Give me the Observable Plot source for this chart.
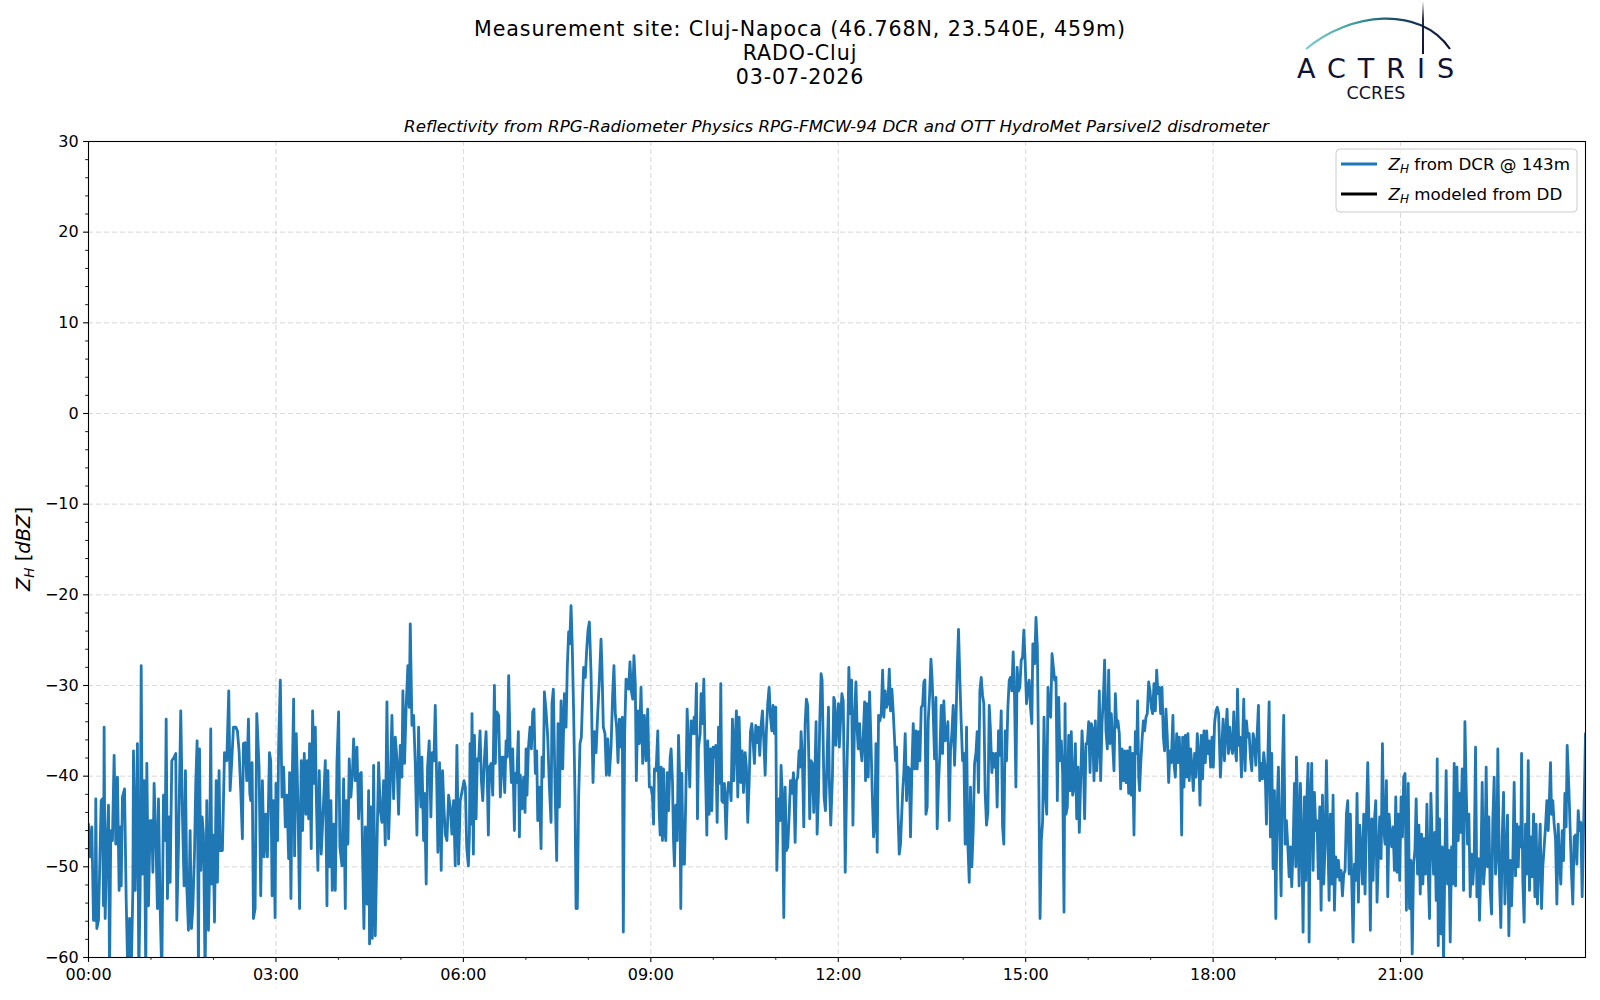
<!DOCTYPE html>
<html>
<head>
<meta charset="utf-8">
<script src="https://cdn.jsdelivr.net/npm/d3@7"></script>
<script src="https://cdn.jsdelivr.net/npm/@observablehq/plot@0.6"></script>
<style>
  body { margin: 0; background: white; }
  #wrap { position: relative; width: 1600px; height: 1000px; }
  #overlay { position: absolute; left: 0; top: 0; pointer-events: none; }
</style>
</head>
<body>
<div id="wrap"></div>
<script>
// ---- Data: [minutes since 00:00, Z_H (dBZ)], one array per 3-hour block ----
const zh0003 = [[0,-45.3],[1.6,-48.9],[3.2,-45.6],[4.8,-55.9],[6.4,-55.9],[7.0,-42.5],[8.0,-56.8],[9.6,-55.9],[11.2,-47.8],[12.2,-42.7],[13.4,-42.5],[14.4,-54.3],[15.0,-34.6],[16,-55.7],[17.6,-47.8],[19.2,-43.2],[20.2,-62],[21.4,-46.0],[23.0,-47.1],[24.6,-37.7],[26.2,-47.5],[27.8,-40.1],[29.4,-52.6],[30.4,-45.6],[31.4,-52.1],[32.6,-42.3],[34.6,-41.4],[36.2,-53.7],[37.8,-62],[39.4,-55.7],[41.0,-62],[42.6,-52.6],[43.2,-37.2],[44.8,-52.6],[47.0,-36.4],[48.3,-62],[49.6,-52.6],[50.6,-27.8],[51.8,-50.8],[53.4,-40.5],[55.0,-62],[56.0,-38.6],[57.6,-54.3],[59.2,-44.9],[60.8,-44.9],[61.8,-50.6],[63.0,-40.8],[64.6,-46.4],[66.2,-54.6],[67.2,-42.5],[68.8,-54.6],[70.4,-62],[72.0,-42.1],[73.6,-47.1],[74.6,-33.7],[75.8,-53.5],[77.4,-44.5],[78.4,-51.7],[80.0,-38.3],[82.2,-37.9],[83.8,-37.5],[84.8,-55.9],[86.4,-47.8],[88.6,-32.8],[90.2,-44.2],[91.8,-52.1],[93.1,-39.4],[94.4,-52.2],[96.0,-57.0],[97.6,-46.0],[98.9,-56.8],[100.2,-54.5],[101.8,-48.4],[103.0,-40.8],[104.3,-36.1],[105.6,-62],[106.6,-37.0],[107.8,-50.4],[109.1,-44.5],[110.4,-46.4],[112.0,-62],[113.6,-42.7],[115.2,-57.0],[116.2,-50.8],[117.4,-34.8],[118.4,-51.9],[119.7,-46.5],[121.0,-56.1],[122.6,-40.5],[123.8,-51.7],[125.4,-39.4],[126.4,-48.2],[128.6,-48.2],[130.6,-37.4],[132.8,-38.3],[134.7,-30.6],[136.0,-41.6],[137.6,-38.3],[139.2,-34.6],[141.4,-34.6],[143.0,-35.0],[144.6,-37.2],[146.2,-41.6],[147.8,-46.9],[148.8,-36.4],[150.4,-36.3],[152.0,-40.5],[153.6,-33.7],[154.9,-41.9],[155.8,-42.7],[157.1,-38.5],[158.4,-55.7],[160.0,-54.6],[161.6,-33.1],[163.8,-39.0],[165.4,-53.2],[167.0,-40.5],[168.6,-48.9],[170.2,-44.2],[171.8,-48.9],[173.8,-37.4],[175.0,-38.3],[176.3,-53.2],[177.6,-42.7],[179.2,-55.6]];
const zh0306 = [[180,-40.8],[181.6,-47.1],[182.6,-36.6],[184.2,-29.4],[185.8,-42.3],[187.4,-39.0],[189.0,-45.6],[190.6,-42.1],[192.2,-49.1],[193.1,-39.6],[194.4,-53.5],[195.4,-41.9],[197.0,-31.5],[197.9,-48.8],[199.5,-35.3],[201.1,-42.9],[202.7,-54.6],[204.3,-38.3],[205.6,-46.0],[207.2,-37.5],[208.8,-44.2],[210.1,-38.3],[211.4,-44.7],[212.3,-36.4],[213.9,-48.0],[215.2,-32.8],[216.8,-40.8],[217.8,-34.6],[218.7,-41.8],[220.3,-50.4],[221.6,-39.4],[223.5,-48.6],[225.8,-42.7],[227.4,-38.3],[229.0,-54.3],[229.9,-39.4],[231.5,-50.0],[232.8,-42.7],[234.1,-52.6],[235.4,-45.3],[237.0,-52.6],[238.6,-38.5],[240.2,-32.9],[241.4,-47.8],[243.4,-49.9],[245.0,-40.3],[246.6,-54.6],[247.5,-42.7],[249.1,-47.5],[250.4,-38.1],[252.0,-42.3],[253.6,-39.4],[254.6,-35.9],[256.2,-40.5],[257.8,-36.8],[259.4,-44.7],[261.0,-39.7],[261.9,-39.6],[263.2,-48.6],[264.5,-56.8],[265.8,-45.6],[267.4,-54.1],[269.0,-41.6],[269.9,-58.5],[271.2,-43.4],[272.5,-57.9],[273.8,-38.8],[275.4,-57.6],[277.0,-47.8],[278.6,-38.5],[280.2,-43.8],[281.8,-45.1],[283.4,-40.5],[285.0,-47.6],[286.6,-31.8],[288.2,-46.9],[289.8,-41.0],[291.4,-33.3],[293.0,-42.5],[294.6,-35.7],[296.2,-38.1],[297.8,-44.2],[299.4,-36.6],[301.0,-40.1],[301.9,-30.6],[303.5,-38.6],[305.1,-32.2],[306.7,-27.8],[308.0,-32.4],[309.0,-23.2],[310.6,-34.4],[312.2,-33.3],[313.8,-38.6],[315.4,-46.5],[317.0,-34.6],[318.2,-40.5],[319.2,-43.4],[320.2,-37.9],[321.8,-47.1],[322.7,-41.9],[324.3,-51.9],[325.6,-39.0],[327.2,-36.1],[328.8,-44.5],[330.1,-37.4],[331.7,-38.3],[333.0,-32.2],[334.6,-41.9],[335.5,-48.4],[337.1,-38.5],[338.7,-50.4],[340.0,-39.4],[341.3,-43.4],[342.6,-46.4],[344.2,-47.1],[345.8,-42.1],[347.4,-43.4],[349.0,-46.4],[350.6,-42.7],[352.2,-49.9],[353.8,-36.6],[355.4,-49.7],[357.0,-42.7]];
const zh0609 = [[360.6,-40.5],[361.9,-41.2],[363.2,-47.8],[364.8,-49.9],[365.8,-46.4],[366.4,-36.4],[367.4,-45.3],[368.3,-33.1],[369.6,-48.6],[370.6,-35.5],[372.2,-44.7],[373.4,-38.1],[374.7,-38.3],[376.0,-35.0],[377.3,-40.5],[378.6,-42.7],[380.2,-38.1],[381.8,-35.1],[383.0,-40.5],[384.0,-46.5],[385.0,-39.0],[386.6,-38.6],[388.2,-42.1],[389.8,-30.0],[390.7,-38.6],[392.0,-32.9],[393.9,-33.3],[395.5,-42.3],[397.1,-37.9],[398.4,-37.9],[399.7,-41.8],[401.0,-36.1],[402.2,-37.9],[403.5,-28.9],[405.1,-37.9],[406.1,-40.7],[407.4,-37.0],[409.0,-46.0],[409.9,-39.7],[411.2,-40.7],[412.8,-35.1],[413.8,-46.7],[414.7,-39.9],[416.3,-43.6],[417.9,-40.1],[419.2,-44.0],[420.2,-37.0],[421.1,-42.1],[422.4,-37.0],[424.0,-34.6],[425.3,-37.0],[426.6,-32.9],[427.8,-32.6],[429.1,-39.7],[430.4,-37.2],[431.4,-44.9],[433.0,-41.2],[434.6,-48.0],[435.5,-37.9],[436.8,-40.1],[437.8,-30.7],[439.4,-32.8],[441.0,-35.7],[442.6,-41.2],[444.2,-45.1],[445.1,-32.0],[446.4,-30.4],[448.0,-41.2],[449.6,-49.3],[450.9,-34.2],[452.2,-43.4],[453.8,-31.7],[455.4,-39.2],[457.0,-30.9],[458.6,-34.6],[459.8,-28.0],[461.1,-24.1],[462.1,-25.4],[463.4,-21.2],[464.6,-25.8],[465.9,-33.1],[467.2,-42.3],[468.2,-54.6],[469.4,-54.6],[470.7,-42.3],[472.0,-36.4],[473.3,-35.7],[474.6,-30.9],[475.5,-28.0],[477.1,-29.1],[478.4,-26.1],[479.7,-23.9],[481.0,-23.0],[482.6,-28.7],[483.5,-35.0],[484.5,-40.7],[485.8,-35.1],[487.4,-37.4],[489.0,-33.1],[490.6,-29.4],[492.2,-24.9],[493.1,-28.0],[494.4,-34.6],[496.0,-35.3],[497.3,-39.9],[498.6,-35.9],[500.2,-39.9],[501.8,-36.8],[503.4,-30.9],[504.6,-27.8],[505.9,-33.1],[507.2,-34.6],[508.5,-38.5],[509.8,-33.7],[511.4,-36.8],[512.6,-33.5],[513.6,-57.2],[514.9,-35.3],[516.2,-29.3],[517.4,-29.4],[518.7,-30.4],[520.0,-27.4],[521.3,-30.6],[522.6,-31.5],[523.8,-26.7],[525.1,-29.8],[526.1,-40.5],[527.4,-32.8],[529.0,-36.4],[530.6,-30.2],[532.2,-38.6],[533.8,-33.3],[535.4,-38.3],[537.0,-32.6],[538.6,-41.2]];
const zh0912 = [[540.3,-41.2],[541.6,-42.3],[542.6,-45.3],[543.5,-39.2],[545.1,-39.4],[546.7,-35.0],[548.0,-43.8],[549.0,-46.5],[549.9,-39.0],[551.2,-47.1],[552.2,-39.2],[553.1,-45.6],[554.4,-47.1],[555.7,-39.6],[557.0,-43.8],[558.6,-37.9],[559.5,-37.0],[560.8,-40.5],[561.8,-47.1],[562.7,-49.9],[564.0,-43.2],[565.3,-47.1],[566.6,-35.5],[567.8,-40.5],[568.8,-54.6],[569.8,-39.7],[571.0,-49.7],[572.3,-49.7],[573.6,-42.3],[574.9,-32.6],[576.2,-36.8],[577.4,-41.2],[578.7,-33.9],[580.3,-35.3],[581.6,-33.5],[582.6,-35.3],[583.8,-29.8],[584.8,-44.7],[585.8,-36.8],[587.4,-35.3],[588.3,-30.9],[589.6,-34.2],[590.9,-29.3],[592.2,-37.9],[593.8,-46.5],[594.7,-36.1],[596.0,-44.2],[597.3,-37.0],[598.6,-43.8],[599.8,-36.8],[601.1,-37.9],[602.4,-36.6],[603.7,-45.1],[605.0,-34.6],[606.2,-40.8],[607.2,-29.8],[608.2,-42.7],[609.4,-42.9],[610.7,-40.8],[612.3,-46.9],[613.6,-41.9],[614.6,-40.7],[616.2,-41.4],[617.1,-42.7],[618.4,-33.7],[619.7,-40.5],[621.0,-35.9],[622.2,-32.8],[623.5,-42.3],[624.8,-33.5],[626.4,-40.7],[627.7,-37.2],[629.0,-41.8],[630.6,-37.4],[631.8,-39.0],[633.1,-45.1],[634.4,-40.8],[635.7,-35.1],[637.0,-34.2],[638.2,-36.1],[639.5,-38.6],[640.8,-34.4],[642.4,-36.3],[643.4,-34.6],[644.6,-37.7],[645.9,-34.4],[647.2,-32.8],[648.5,-36.1],[649.8,-39.9],[651.0,-35.0],[652.3,-32.0],[653.6,-30.2],[654.9,-33.5],[656.2,-35.0],[657.4,-32.2],[658.7,-35.3],[660.0,-32.4],[661.0,-50.4],[661.9,-46.4],[662.9,-42.5],[664.2,-44.9],[665.1,-38.8],[666.4,-42.3],[667.7,-55.6],[669.0,-41.2],[670.2,-48.2],[671.5,-47.8],[672.8,-44.5],[674.1,-40.5],[675.4,-41.9],[677.0,-39.6],[678.6,-47.3],[679.8,-40.5],[681.1,-40.1],[682.4,-37.2],[683.4,-39.0],[684.3,-35.1],[685.6,-38.1],[686.9,-45.6],[688.2,-34.2],[689.4,-31.5],[690.7,-32.2],[691.7,-37.9],[692.6,-44.7],[693.9,-38.3],[695.2,-38.6],[696.5,-44.0],[697.8,-38.6],[698.7,-34.0],[699.7,-46.4],[701.0,-41.9],[702.2,-34.2],[703.5,-28.7],[704.5,-29.4],[705.4,-35.3],[706.4,-42.3],[707.7,-43.8],[709.0,-39.0],[710.6,-32.4],[711.5,-40.8],[712.8,-45.4],[714.4,-40.1],[715.7,-31.3],[716.6,-31.7],[717.6,-36.6],[718.9,-33.9],[720.2,-32.0]];
const zh1215 = [[721.0,-36.8],[722.2,-33.9],[723.5,-30.9],[724.8,-31.7],[725.8,-41.2],[726.7,-50.6],[728.0,-41.2],[729.3,-34.2],[730.2,-28.0],[731.5,-33.1],[732.8,-29.4],[734.1,-45.4],[735.7,-33.1],[737.0,-29.6],[738.2,-35.0],[739.2,-37.0],[740.5,-34.2],[741.4,-36.8],[742.7,-38.3],[744.0,-35.7],[745.3,-31.8],[746.2,-40.5],[747.5,-32.0],[748.8,-40.1],[750.1,-30.7],[751.4,-36.1],[752.6,-41.6],[753.9,-46.7],[755.2,-45.3],[756.2,-36.4],[757.4,-48.4],[758.7,-33.3],[760.0,-33.9],[761.3,-33.1],[762.6,-28.3],[763.8,-33.5],[765.1,-30.6],[766.4,-32.4],[767.7,-32.0],[769.0,-28.2],[770.2,-32.8],[771.5,-30.4],[772.8,-32.9],[773.8,-35.3],[775.0,-38.3],[776.0,-36.8],[777.3,-43.8],[778.6,-48.6],[779.8,-47.5],[781.1,-43.8],[782.1,-41.2],[783.0,-39.6],[784.3,-35.3],[785.6,-42.7],[786.9,-39.0],[788.2,-39.2],[789.4,-46.7],[790.7,-39.4],[792.0,-34.2],[793.3,-39.2],[794.6,-35.0],[795.8,-39.2],[797.1,-35.1],[798.4,-38.3],[799.7,-32.4],[801.0,-32.2],[802.2,-29.6],[803.2,-29.4],[804.2,-44.2],[805.4,-43.4],[806.4,-33.9],[807.7,-31.1],[809.0,-27.1],[810.2,-29.4],[811.2,-33.1],[812.5,-38.1],[813.8,-31.3],[815.0,-45.8],[816.3,-40.8],[817.6,-37.5],[818.9,-32.2],[820.2,-37.5],[821.4,-31.7],[822.7,-36.1],[824.0,-35.7],[825.3,-34.0],[826.6,-44.9],[827.8,-37.2],[829.1,-35.3],[830.4,-32.2],[831.7,-38.8],[833.0,-34.2],[834.2,-28.3],[835.5,-23.8],[836.8,-29.4],[838.1,-34.2],[839.4,-38.3],[840.6,-37.5],[841.9,-47.5],[843.2,-34.6],[844.5,-47.5],[845.8,-51.7],[847.0,-41.2],[848.3,-50.0],[849.6,-46.0],[850.9,-38.6],[852.2,-37.5],[853.4,-35.1],[854.7,-41.8],[856.0,-30.6],[857.3,-29.1],[858.6,-31.1],[859.8,-32.0],[861.1,-41.9],[862.4,-45.4],[863.7,-44.0],[865.0,-32.2],[866.2,-35.0],[867.5,-39.6],[868.8,-37.5],[870.1,-39.0],[871.4,-37.5],[872.6,-43.4],[873.9,-35.0],[875.2,-37.7],[876.5,-32.8],[877.8,-45.6],[879.0,-47.5],[880.3,-35.0],[881.6,-38.3],[882.9,-32.4],[884.2,-29.4],[885.4,-29.1],[886.7,-30.6],[888.0,-26.3],[889.3,-31.3],[890.6,-41.2],[891.8,-28.0],[893.1,-30.6],[894.4,-30.2],[895.7,-27.2],[897.0,-26.9],[898.2,-23.9],[899.5,-27.4],[900.8,-32.0],[902.1,-30.2],[903.4,-29.4],[904.6,-32.4],[905.9,-34.2],[906.9,-25.4]];
const zh1518 = [[908.6,-27.6],[909.9,-22.5],[911.2,-25.8],[912.5,-39.0],[913.8,-55.7],[915.0,-47.1],[916.3,-44.9],[917.6,-33.5],[918.9,-41.9],[920.2,-44.2],[921.4,-30.2],[922.7,-33.1],[924.0,-33.5],[925.3,-26.5],[926.6,-28.0],[927.8,-29.4],[929.1,-29.1],[930.4,-42.7],[931.7,-31.3],[933.0,-38.3],[934.2,-36.1],[935.5,-39.7],[936.8,-55.0],[937.8,-32.0],[938.7,-44.2],[940.0,-43.4],[941.3,-35.5],[942.6,-41.6],[943.8,-35.1],[945.1,-42.1],[946.4,-41.2],[947.7,-36.4],[949.0,-44.7],[950.2,-39.0],[951.5,-46.2],[952.8,-40.5],[954.1,-35.0],[955.4,-38.3],[956.6,-44.7],[957.9,-36.4],[959.2,-36.4],[960.5,-34.0],[961.8,-39.6],[963.0,-34.2],[964.3,-34.8],[965.6,-40.5],[966.9,-33.9],[968.2,-39.4],[969.4,-36.8],[970.7,-30.6],[972.0,-40.5],[973.3,-34.2],[974.6,-31.3],[975.8,-27.2],[977.1,-35.0],[978.4,-37.0],[979.7,-28.3],[981.0,-36.4],[982.2,-33.1],[983.5,-36.4],[984.8,-39.4],[986.1,-30.9],[987.4,-34.6],[988.6,-33.9],[989.9,-35.3],[991.2,-41.4],[992.5,-37.0],[993.8,-40.5],[995.0,-37.2],[996.3,-40.7],[997.6,-37.2],[998.9,-41.9],[1000.2,-36.8],[1001.4,-42.1],[1002.7,-37.5],[1004.0,-46.5],[1005.3,-35.1],[1006.6,-37.5],[1007.5,-31.7],[1008.5,-40.1],[1009.4,-41.6],[1010.4,-38.8],[1011.7,-36.1],[1013.0,-33.9],[1014.2,-35.0],[1015.5,-33.5],[1016.8,-33.1],[1018.1,-29.6],[1019.4,-30.6],[1020.6,-32.4],[1021.9,-33.1],[1023.2,-29.8],[1024.5,-32.8],[1025.8,-28.3],[1027.0,-30.9],[1028.3,-30.2],[1029.6,-33.1],[1030.9,-30.2],[1032.2,-35.7],[1033.4,-37.2],[1034.7,-32.6],[1036.0,-35.7],[1037.3,-40.7],[1038.6,-37.2],[1039.8,-38.5],[1041.4,-33.3],[1042.4,-38.6],[1043.7,-40.1],[1045.0,-35.3],[1046.2,-38.5],[1047.5,-35.7],[1048.8,-39.0],[1049.8,-46.5],[1050.7,-35.7],[1052.0,-41.2],[1053.3,-35.5],[1054.6,-40.1],[1055.8,-35.3],[1057.1,-40.5],[1058.4,-37.0],[1059.7,-39.0],[1061.0,-41.6],[1062.2,-37.5],[1063.5,-40.1],[1064.8,-35.3],[1066.1,-37.5],[1067.4,-43.2],[1068.6,-35.5],[1069.9,-40.3],[1071.2,-35.0],[1072.5,-38.5],[1073.8,-35.0],[1075.0,-37.5],[1076.3,-36.1],[1077.6,-39.0],[1078.9,-35.7],[1080.2,-39.0],[1081.4,-34.2],[1082.7,-32.8],[1084.0,-32.4],[1085.3,-33.1]];
const zh1821 = [[1087.0,-40.1],[1088.3,-37.0],[1089.6,-33.7],[1090.9,-38.3],[1092.2,-35.0],[1093.4,-32.6],[1094.7,-37.5],[1096.0,-34.6],[1097.3,-36.8],[1098.6,-37.5],[1099.8,-32.9],[1101.1,-36.8],[1102.4,-38.3],[1103.4,-30.4],[1104.6,-36.6],[1105.9,-35.7],[1107.2,-40.1],[1108.5,-35.3],[1109.4,-31.5],[1110.7,-39.4],[1112.0,-33.9],[1113.3,-35.7],[1114.6,-35.3],[1115.8,-37.9],[1117.1,-39.4],[1118.4,-35.3],[1119.7,-36.1],[1121.0,-38.8],[1122.2,-35.7],[1123.5,-32.2],[1124.8,-40.5],[1126.1,-38.6],[1127.4,-40.3],[1128.6,-37.4],[1129.9,-39.0],[1131.2,-45.3],[1132.5,-38.3],[1133.8,-31.8],[1135.0,-46.7],[1136.3,-37.5],[1137.6,-50.2],[1138.9,-41.6],[1140.2,-55.7],[1141.4,-43.8],[1142.7,-39.0],[1144.0,-46.7],[1145.3,-53.2],[1146.6,-39.0],[1147.8,-33.3],[1149.1,-47.5],[1150.4,-44.9],[1151.7,-47.8],[1153.0,-51.1],[1154.2,-47.8],[1155.5,-52.2],[1156.8,-47.8],[1158.1,-40.8],[1159.4,-50.0],[1160.0,-37.9],[1161.3,-44.2],[1162.6,-52.1],[1163.8,-40.8],[1165.1,-46.4],[1166.4,-57.2],[1167.7,-42.3],[1169.0,-51.5],[1170.2,-41.9],[1171.2,-38.6],[1172.2,-58.3],[1173.4,-43.4],[1174.7,-38.6],[1176.0,-50.4],[1177.3,-41.8],[1178.6,-46.0],[1179.8,-44.9],[1181.1,-51.3],[1182.4,-43.4],[1183.7,-54.8],[1185.0,-42.1],[1186.2,-51.9],[1187.5,-47.8],[1188.8,-38.3],[1190.1,-46.4],[1191.4,-53.7],[1192.6,-44.2],[1193.9,-51.9],[1195.2,-42.1],[1196.5,-54.8],[1197.8,-48.9],[1199.0,-51.1],[1200.3,-49.3],[1201.6,-51.5],[1202.9,-50.4],[1204.2,-53.2],[1205.4,-50.8],[1206.7,-50.4],[1208.0,-44.2],[1209.3,-42.7],[1210.6,-50.8],[1211.8,-44.2],[1213.1,-51.5],[1214.4,-58.3],[1215.7,-49.7],[1217.0,-51.5],[1218.2,-41.9],[1219.5,-53.9],[1220.8,-45.4],[1222.1,-48.2],[1223.4,-51.9],[1224.6,-44.2],[1225.9,-53.0],[1227.2,-44.5],[1228.5,-38.5],[1229.8,-46.4],[1231.0,-57.0],[1232.3,-44.7],[1233.6,-51.5],[1234.9,-44.9],[1236.2,-42.7],[1237.4,-53.9],[1238.7,-48.6],[1240.0,-44.5],[1241.3,-49.1],[1242.6,-36.4],[1243.8,-45.8],[1245.1,-47.5],[1246.4,-40.5],[1247.7,-53.3],[1249.0,-44.2],[1250.2,-46.4],[1251.5,-47.8],[1252.8,-45.6],[1254.1,-50.4],[1255.4,-42.3],[1256.6,-50.6],[1257.9,-44.2],[1259.2,-51.5],[1260.5,-42.3],[1261.8,-46.7],[1263.0,-40.1],[1264.3,-39.7],[1265.6,-54.8]];
const zh2124 = [[1267.4,-40.8],[1268.6,-54.6],[1269.9,-49.3],[1271.2,-59.6],[1272.5,-49.7],[1273.8,-48.2],[1275.0,-42.5],[1276.3,-50.8],[1277.6,-45.4],[1278.9,-53.0],[1280.2,-46.4],[1281.4,-51.9],[1282.7,-46.9],[1284.0,-50.8],[1285.3,-43.1],[1286.6,-50.8],[1287.8,-55.7],[1289.1,-41.9],[1290.4,-47.1],[1291.7,-50.8],[1293.0,-46.2],[1294.2,-53.7],[1295.2,-38.1],[1296.2,-58.7],[1297.4,-44.7],[1298.7,-57.4],[1300.0,-47.8],[1301.3,-60.5],[1302.6,-48.9],[1303.8,-39.4],[1305.1,-51.9],[1306.4,-48.2],[1307.7,-58.3],[1309.0,-47.8],[1310.2,-51.9],[1311.5,-38.6],[1312.8,-52.1],[1314.1,-39.0],[1315.4,-47.1],[1316.6,-41.9],[1317.9,-46.2],[1319.2,-39.2],[1320.5,-52.6],[1321.8,-34.0],[1323.0,-41.2],[1324.3,-47.5],[1325.6,-44.2],[1326.9,-53.3],[1328.2,-48.6],[1329.4,-51.9],[1330.7,-49.3],[1332.0,-36.8],[1333.3,-53.3],[1334.6,-49.1],[1335.8,-55.9],[1337.1,-50.0],[1338.4,-40.7],[1339.7,-51.9],[1341.0,-49.7],[1342.2,-39.0],[1343.5,-50.0],[1344.8,-44.5],[1346.1,-52.6],[1347.4,-55.2],[1348.6,-44.9],[1349.9,-40.1],[1351.2,-50.8],[1352.5,-48.6],[1353.4,-37.0],[1355.0,-51.5],[1356.3,-56.7],[1357.6,-46.7],[1358.9,-41.8],[1360.2,-54.1],[1361.4,-48.9],[1362.7,-44.3],[1364.0,-57.6],[1365.3,-49.3],[1366.6,-54.3],[1367.8,-49.3],[1369.1,-40.7],[1370.4,-51.0],[1371.7,-45.3],[1373.0,-50.0],[1374.2,-45.6],[1375.5,-47.8],[1376.2,-37.5],[1377.4,-51.5],[1378.7,-56.1],[1380.0,-45.3],[1381.3,-50.8],[1382.6,-38.3],[1383.8,-52.6],[1385.1,-46.7],[1386.4,-51.1],[1387.7,-44.2],[1389.0,-53.3],[1390.2,-45.3],[1391.5,-54.1],[1392.8,-49.7],[1394.1,-45.3],[1395.4,-54.6],[1396.6,-50.0],[1397.9,-47.8],[1399.2,-45.6],[1400.5,-42.7],[1401.8,-46.0],[1403.0,-42.3],[1404.0,-38.5],[1405.0,-44.2],[1406.2,-42.7],[1407.5,-45.3],[1408.8,-46.9],[1410.1,-54.1],[1411.4,-45.3],[1412.6,-49.3],[1413.9,-51.9],[1415.2,-46.0],[1416.5,-49.3],[1417.8,-41.9],[1419.0,-45.6],[1420.0,-36.6],[1421.6,-41.2],[1422.9,-46.0],[1424.2,-50.8],[1425.4,-54.1],[1426.7,-46.7],[1428.0,-46.5],[1429.3,-49.7],[1430.6,-43.8],[1431.8,-46.0],[1433.1,-45.1],[1434.4,-53.3],[1435.7,-46.0],[1437.0,-39.0],[1437.6,-35.3]];

// Tick positions and labels
const xMajor = [0, 180, 360, 540, 720, 900, 1080, 1260];            // minutes
const xMinor = [60, 120, 240, 300, 420, 480, 600, 660, 780, 840, 960, 1020, 1140, 1200, 1320, 1380];
const yMajor = [-60, -50, -40, -30, -20, -10, 0, 10, 20, 30];
const yMinor = d3.range(-58, 30, 2).filter(d => d % 10 !== 0);
const titleLines = ["Measurement site: Cluj-Napoca (46.768N, 23.540E, 459m)", "RADO-Cluj", "03-07-2026"];
const subtitle = "Reflectivity from RPG-Radiometer Physics RPG-FMCW-94 DCR and OTT HydroMet Parsivel2 disdrometer";

const series = [zh0003, zh0306, zh0609, zh0912, zh1215, zh1518, zh1821, zh2124]
  .flat().map(([t, v]) => ({t, v}));

const hhmm = m => String(Math.floor(m / 60)).padStart(2, "0") + ":" + String(m % 60).padStart(2, "0");
const yfmt = d => d < 0 ? "\u2212" + Math.abs(d) : String(d);

const gridStyle = {stroke: "#b0b0b0", strokeOpacity: 0.55, strokeWidth: 0.9, strokeDasharray: "5,3"};

const chart = Plot.plot({
  width: 1600,
  height: 1000,
  marginTop: 141,
  marginRight: 15,
  marginBottom: 43,
  marginLeft: 88,
  style: {fontFamily: "'DejaVu Sans', sans-serif", fontSize: "16px", color: "black", background: "white", overflow: "visible"},
  x: {domain: [0, 1437.6]},
  y: {domain: [-60, 30]},
  marks: [
    Plot.gridX(xMajor, gridStyle),
    Plot.gridY(yMajor, gridStyle),
    Plot.line(series, {x: "t", y: "v", stroke: "#1f77b4", strokeWidth: 2.8, clip: true}),
    Plot.frame({stroke: "black", strokeWidth: 1.1}),
    Plot.axisX(xMajor, {tickSize: 4.9, tickPadding: 6.5, tickFormat: hhmm, strokeWidth: 1.1, label: null}),
    Plot.axisX(xMinor, {tickSize: 2.8, tickFormat: () => "", strokeWidth: 0.9, label: null}),
    Plot.axisY(yMajor, {tickSize: 4.9, tickPadding: 4.9, tickFormat: yfmt, strokeWidth: 1.1, label: null}),
    Plot.axisY(yMinor, {tickSize: 2.8, tickFormat: () => "", strokeWidth: 0.9, label: null})
  ]
});

const wrap = document.getElementById("wrap");
wrap.appendChild(chart);

// Overlay: titles, axis label, legend, logo
const ns = "http://www.w3.org/2000/svg";
const ov = document.createElementNS(ns, "svg");
ov.setAttribute("id", "overlay");
ov.setAttribute("width", 1600);
ov.setAttribute("height", 1000);
ov.setAttribute("viewBox", "0 0 1600 1000");
ov.innerHTML = `
<defs>
  <linearGradient id="arcGrad" gradientUnits="userSpaceOnUse" x1="1306" y1="0" x2="1450" y2="0">
    <stop offset="0" stop-color="#7ccfc9"/>
    <stop offset="0.35" stop-color="#3a9aa0"/>
    <stop offset="0.6" stop-color="#1d4f6a"/>
    <stop offset="1" stop-color="#101234"/>
  </linearGradient>
  <linearGradient id="barGrad" gradientUnits="userSpaceOnUse" x1="0" y1="1" x2="0" y2="54">
    <stop offset="0" stop-color="#101234" stop-opacity="0"/>
    <stop offset="0.35" stop-color="#101234" stop-opacity="0.9"/>
    <stop offset="1" stop-color="#101234"/>
  </linearGradient>
</defs>
<g font-family="'DejaVu Sans', sans-serif" fill="black">
  <text x="800" y="35.6" font-size="20.6" letter-spacing="0.9" text-anchor="middle">${titleLines[0]}</text>
  <text x="800" y="59.8" font-size="20.6" letter-spacing="0.9" text-anchor="middle">${titleLines[1]}</text>
  <text x="800" y="84.0" font-size="20.6" letter-spacing="0.9" text-anchor="middle">${titleLines[2]}</text>
  <text x="836.5" y="132.3" font-size="16.7" font-style="italic" text-anchor="middle">${subtitle}</text>
  <text transform="translate(30,549) rotate(-90)" font-size="19.5" text-anchor="middle"><tspan font-style="italic">Z</tspan><tspan font-style="italic" font-size="13.5" dy="4">H</tspan><tspan dy="-4"> [</tspan><tspan font-style="italic">dBZ</tspan><tspan>]</tspan></text>
</g>
<g font-family="'DejaVu Sans', sans-serif">
  <rect x="1336" y="149" width="241" height="63" rx="4" ry="4" fill="white" fill-opacity="0.8" stroke="#cccccc" stroke-width="1"/>
  <line x1="1341" y1="164" x2="1377" y2="164" stroke="#1f77b4" stroke-width="2.8"/>
  <line x1="1341" y1="194" x2="1377" y2="194" stroke="black" stroke-width="2.8"/>
  <text x="1388.5" y="169.8" font-size="16.7" fill="black"><tspan font-style="italic">Z</tspan><tspan font-style="italic" font-size="12" dy="3.6">H</tspan><tspan dy="-3.6"> from DCR @ 143m</tspan></text>
  <text x="1388.5" y="199.8" font-size="16.7" fill="black"><tspan font-style="italic">Z</tspan><tspan font-style="italic" font-size="12" dy="3.6">H</tspan><tspan dy="-3.6"> modeled from DD</tspan></text>
</g>
<g>
  <path d="M1306,49 C1350,12 1420,5 1450,49" fill="none" stroke="url(#arcGrad)" stroke-width="2.2"/>
  <rect x="1422" y="1" width="2" height="53" fill="url(#barGrad)"/>
  <text x="1297" y="77.5" font-family="'DejaVu Sans', sans-serif" font-size="27" fill="#101234" text-anchor="start" letter-spacing="12">ACTRIS</text>
  <text x="1376" y="99" font-family="'DejaVu Sans', sans-serif" font-size="17.5" fill="#101234" text-anchor="middle">CCRES</text>
</g>`;
wrap.appendChild(ov);
</script>
</body>
</html>
